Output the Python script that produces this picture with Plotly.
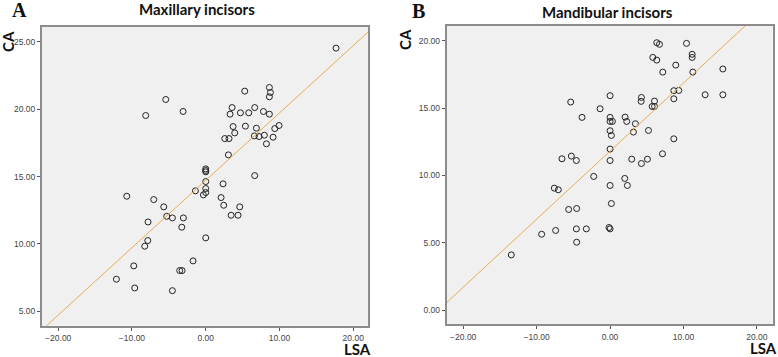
import plotly.graph_objects as go

# ---------- Data ----------
# Panel A: Maxillary incisors (LSA vs CA)
max_lsa = [17.67, -8.14, -5.42, -3.07, 5.29, 8.63, 8.77, 8.63, 3.57, 3.30, 4.70, 5.83,
           6.64, 7.82, 8.63, 3.71, 5.38, 3.93, 2.58, 3.16, 6.87, 6.60, 7.23, 7.95,
           9.36, 9.94, 9.13, 8.23, 3.07, 6.64, 0.0, 0.0, 0.0,
           0.0, 0.0, 0.0, -0.32, -1.40, 2.35, 2.08, 2.44, 4.61, 3.44, 4.38,
           -10.71, -7.05, -5.69, -5.29, -4.52, -3.03, -3.25, -7.82, -7.86, -8.27,
           0.0, -1.72, -9.76, -3.53, -3.21, -12.11, -9.63, -4.52]
max_ca = [24.53, 19.53, 20.72, 19.83, 21.34, 21.61, 21.24, 20.92, 20.12, 19.63, 19.73, 19.73,
          20.12, 19.83, 19.63, 18.71, 18.74, 18.24, 17.82, 17.82, 18.59, 18.02, 17.97, 18.07,
          18.56, 18.79, 17.92, 17.43, 16.61, 15.07, 15.57, 15.45, 15.35,
          14.63, 14.11, 13.81, 13.64, 13.94, 14.46, 13.44, 12.87, 12.75, 12.13, 12.13,
          13.54, 13.29, 12.75, 12.05, 11.93, 11.93, 11.24, 11.63, 10.25, 9.83,
          10.45, 8.74, 8.37, 8.02, 8.02, 7.38, 6.73, 6.53]
max_fit = (14.72, 0.50)   # intercept, slope

# Panel B: Mandibular incisors
man_lsa = [6.36, 6.73, 10.41, 11.18, 11.18, 5.82, 6.36, 8.95, 7.18, 11.27, 15.36, 15.36,
           12.95, 8.68, 9.36, 8.68, 4.27, 4.23, 6.05, 5.73, 6.05, 0.0, -5.36, -1.36,
           -3.82, 0.0, 0.0, 0.32, 2.05, 2.27, 3.45, 0.0, 0.18, 3.18, 5.23, 8.68,
           0.0, 7.14, -6.55, -5.27, -4.59, 0.0, 2.95, 5.09, 4.27,
           -2.23, 2.0, 0.0, 2.36, -7.59, -7.05, 0.18, -5.64, -4.55, -0.14, 0.0,
           -4.59, -3.23, -7.41, -9.32, -4.55, -13.45]
man_ca = [19.85, 19.73, 19.80, 18.99, 18.76, 18.76, 18.56, 18.19, 17.67, 17.67, 17.90, 15.99,
          15.99, 16.29, 16.31, 15.69, 15.79, 15.50, 15.52, 15.12, 15.12, 15.92, 15.45, 14.95,
          14.31, 14.31, 14.01, 14.01, 14.33, 14.01, 13.84, 13.32, 12.97, 13.22, 13.34, 12.72,
          11.96, 11.61, 11.24, 11.44, 11.11, 11.11, 11.21, 11.21, 10.89,
          9.93, 9.78, 9.26, 9.26, 9.06, 8.94, 7.92, 7.48, 7.55, 6.14, 6.04,
          6.04, 6.04, 5.92, 5.64, 5.05, 4.11]
man_fit = (11.81, 0.505)

x_ticks = [-20, -10, 0, 10, 20]
max_y_ticks = [5, 10, 15, 20, 25]
man_y_ticks = [0, 5, 10, 15, 20]

max_xrange = [-22.2, 22.0]
max_yrange = [3.93, 26.1]
man_xrange = [-22.25, 22.15]
man_yrange = [-1.04, 21.09]

# ---------- Figure ----------
W, H = 778, 357
fig = go.Figure()

marker = dict(symbol="circle-open", size=6, color="#222222", line=dict(width=1, color="#222222"))
line_color = "#eaaa52"

fig.add_trace(go.Scatter(x=max_lsa, y=max_ca, mode="markers", marker=marker,
                         xaxis="x", yaxis="y", showlegend=False))
xs = [max_xrange[0] - 1, max_xrange[1] + 1]
fig.add_trace(go.Scatter(x=xs, y=[max_fit[0] + max_fit[1] * v for v in xs], mode="lines",
                         line=dict(color=line_color, width=1), xaxis="x", yaxis="y",
                         showlegend=False))

fig.add_trace(go.Scatter(x=man_lsa, y=man_ca, mode="markers", marker=marker,
                         xaxis="x2", yaxis="y2", showlegend=False))
xs2 = [man_xrange[0] - 1, man_xrange[1] + 1]
fig.add_trace(go.Scatter(x=xs2, y=[man_fit[0] + man_fit[1] * v for v in xs2], mode="lines",
                         line=dict(color=line_color, width=1), xaxis="x2", yaxis="y2",
                         showlegend=False))

tickfont = dict(family="Liberation Sans, Arial, sans-serif", size=8.5, color="#444444")
common = dict(showgrid=False, zeroline=False, showline=True, mirror=True,
              linecolor="#8c8c8c", linewidth=2, ticks="outside", ticklen=3,
              tickcolor="#555555", tickwidth=1, tickfont=tickfont, tickformat=".2f")

fig.update_layout(
    width=W, height=H,
    margin=dict(l=0, r=0, t=0, b=0),
    paper_bgcolor="white",
    plot_bgcolor="#f0f0f0",
    xaxis=dict(domain=[42 / W, 368 / W], range=max_xrange, tickvals=x_ticks,
               anchor="y", **common),
    yaxis=dict(domain=[1 - 325.7 / H, 1 - 27 / H], range=max_yrange, tickvals=max_y_ticks,
               anchor="x", **common),
    xaxis2=dict(domain=[446.7 / W, 772.7 / W], range=man_xrange, tickvals=x_ticks,
                anchor="y2", **common),
    yaxis2=dict(domain=[1 - 324.3 / H, 1 - 26 / H], range=man_yrange, tickvals=man_y_ticks,
                anchor="x2", **common),
)

def ann(text, x, y, size, family, angle=0, bold=True):
    fig.add_annotation(text=f"<b>{text}</b>" if bold else text,
                       x=x / W, y=1 - y / H, xref="paper", yref="paper",
                       xanchor="center", yanchor="middle", showarrow=False,
                       textangle=angle, borderpad=0,
                       font=dict(size=size, family=family, color="#111111"))

sans = "Lato, Open Sans, sans-serif"
serif = "Liberation Serif, Times New Roman, serif"
ann("Maxillary incisors", 197, 9, 15, sans)
ann("Mandibular incisors", 607, 12, 15, sans)
ann("A", 19, 10, 20, serif)
ann("B", 418, 11, 20, serif)
ann("CA", 8, 41, 15, sans, angle=-90)
ann("CA", 405, 40, 15, sans, angle=-90)
ann("LSA", 357, 349, 15, sans)
ann("LSA", 763, 348, 15, sans)

fig.write_html("out.html",
               config={"displayModeBar": False},
               post_script="document.body.style.margin='0';document.body.style.overflow='hidden';")
